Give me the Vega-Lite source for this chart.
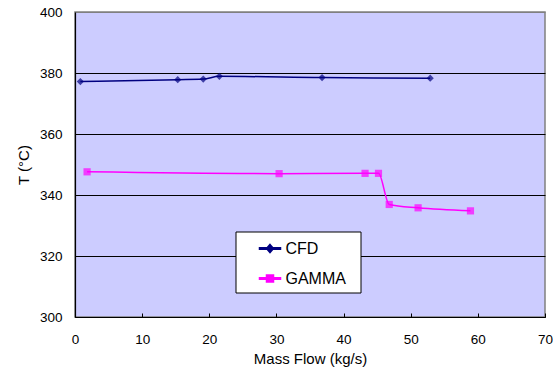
{
  "$schema": "https://vega.github.io/schema/vega-lite/v6.json",
  "width": 470,
  "height": 305,
  "autosize": {"type": "none"},
  "padding": {"left": 75, "top": 12, "right": 8, "bottom": 53},
  "background": "white",
  "config": {
    "font": "Liberation Sans",
    "view": {"fill": "#CCCCFF", "stroke": "#808080", "strokeWidth": 1.5},
    "axis": {"labelFont": "Liberation Sans", "titleFont": "Liberation Sans", "labelColor": "black", "titleColor": "black", "titleFontWeight": "normal", "domainColor": "black", "domainWidth": 1.2, "tickColor": "black"},
    "legend": {"labelFont": "Liberation Sans"}
  },
  "data": {
    "values": [
      {"series": "CFD", "flow": 0.8, "T": 377.2},
      {"series": "CFD", "flow": 15.3, "T": 377.8},
      {"series": "CFD", "flow": 19.1, "T": 378.0},
      {"series": "CFD", "flow": 21.5, "T": 378.9},
      {"series": "CFD", "flow": 36.8, "T": 378.5},
      {"series": "CFD", "flow": 52.9, "T": 378.3},
      {"series": "GAMMA", "flow": 1.8, "T": 347.6},
      {"series": "GAMMA", "flow": 30.4, "T": 347.0},
      {"series": "GAMMA", "flow": 43.2, "T": 347.1},
      {"series": "GAMMA", "flow": 45.2, "T": 347.1},
      {"series": "GAMMA", "flow": 46.8, "T": 336.9},
      {"series": "GAMMA", "flow": 51.1, "T": 335.8},
      {"series": "GAMMA", "flow": 58.9, "T": 334.8}
    ]
  },
  "encoding": {
    "x": {
      "field": "flow", "type": "quantitative",
      "scale": {"domain": [0, 70], "nice": false, "zero": false},
      "axis": {"title": "Mass Flow (kg/s)", "values": [0, 10, 20, 30, 40, 50, 60, 70], "grid": false, "tickSize": -4, "labelPadding": 19, "labelFontSize": 13.5, "titleFontSize": 15, "titlePadding": 6, "labelFlush": false}
    },
    "y": {
      "field": "T", "type": "quantitative",
      "scale": {"domain": [300, 400], "nice": false, "zero": false},
      "axis": {"title": "T (°C)", "values": [300, 320, 340, 360, 380, 400], "grid": true, "gridColor": {"condition": {"test": "datum.value === 400", "value": "#808080"}, "value": "black"}, "ticks": false, "labelPadding": 13, "labelFontSize": 13.5, "titleFontSize": 15, "titlePadding": 8, "labelFlush": false}
    },
    "color": {
      "field": "series", "type": "nominal",
      "scale": {"domain": ["CFD", "GAMMA"], "range": ["#000080", "#FF00FF"]},
      "legend": {
        "title": "\u00a0",
        "titleOrient": "right",
        "titleFontSize": 16,
        "titlePadding": 9,
        "orient": "none",
        "legendX": 160.5,
        "legendY": 219.5,
        "padding": 6,
        "fillColor": "white",
        "strokeColor": "black",
        "symbolSize": 400,
        "symbolOffset": 17.5,
        "labelOffset": 4.5,
        "rowPadding": 11,
        "labelFontSize": 16,
        "labelColor": "black",
        "encode": {
          "symbols": {
            "update": {
              "shape": {"signal": "datum.value === 'CFD' ? 'M-1.05,-0.075H1.05V0.075H-1.05Z M0,-0.4L0.35,0L0,0.4L-0.35,0Z' : 'M-1.05,-0.075H1.05V0.075H-1.05Z M-0.35,-0.35H0.35V0.35H-0.35Z'"},
              "fill": {"signal": "datum.value === 'CFD' ? '#000080' : '#FF00FF'"},
              "stroke": {"value": "transparent"}
            }
          }
        }
      }
    }
  },
  "layer": [
    {"mark": {"type": "line", "interpolate": "monotone", "strokeWidth": 1.5}},
    {
      "transform": [{"filter": "datum.series === 'CFD'"}],
      "mark": {"type": "point", "filled": true, "size": 52, "shape": "diamond"}
    },
    {
      "transform": [{"filter": "datum.series === 'GAMMA'"}],
      "mark": {"type": "point", "filled": true, "size": 52, "shape": "square"}
    }
  ]
}
